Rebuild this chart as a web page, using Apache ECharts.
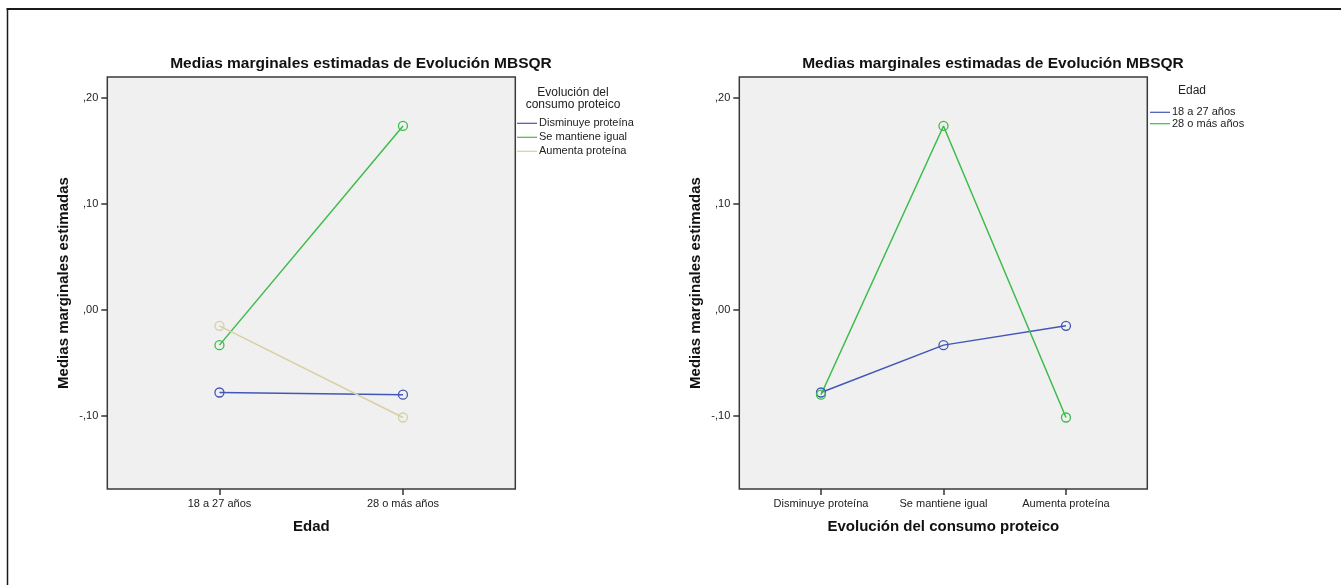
<!DOCTYPE html>
<html>
<head>
<meta charset="utf-8">
<script src="https://cdn.jsdelivr.net/npm/echarts@6/dist/echarts.min.js"></script>
<style>
  html, body { margin: 0; padding: 0; background: #ffffff; }
  #chart { width: 1341px; height: 585px; }
</style>
</head>
<body>
<div id="chart"></div>
<script>
// Texts
const chartTitle = 'Medias marginales estimadas de Evolución MBSQR';
const yAxisTitle = 'Medias marginales estimadas';
const ageTitle = 'Edad';
const proteinTitle = 'Evolución del consumo proteico';
const proteinLegendTitle = 'Evolución del\nconsumo proteico';

// Categories
const ageGroups = ['18 a 27 años', '28 o más años'];
const proteinGroups = ['Disminuye proteína', 'Se mantiene igual', 'Aumenta proteína'];

// Estimated marginal means per protein group, ordered as ageGroups
const disminuyeProteina = [-0.0783, -0.0804];
const seMantieneIgual = [-0.0336, 0.1733];
const aumentaProteina = [-0.0154, -0.1019];

// Y tick values and their labels
const yTickValues = [-0.1, 0, 0.1, 0.2];
const yTickLabels = ['-,10', ',00', ',10', ',20'];

const proteinColors = ['#4256b8', '#3cbc4a', '#d6d0a4'];
const ageColors = ['#4256b8', '#3cbc4a'];

const font = '"Liberation Sans", Arial, sans-serif';
const byProtein = [disminuyeProteina, seMantieneIgual, aumentaProteina];

function yLabel(v) {
  const i = yTickValues.findIndex(t => Math.abs(t - v) < 1e-9);
  return i >= 0 ? yTickLabels[i] : '';
}

function gridBox(left) {
  return {
    left: left, top: 77, width: 408, height: 412,
    show: true, backgroundColor: '#f0f0f0',
    borderColor: '#3a3a3a', borderWidth: 1.5
  };
}

function categoryAxis(gridIndex, labels, min, max, name) {
  const ticks = labels.map((_, i) => i);
  return {
    gridIndex: gridIndex, type: 'value', min: min, max: max,
    axisLine: { show: false, onZero: false },
    splitLine: { show: false },
    axisTick: { show: true, customValues: ticks, length: 6, lineStyle: { color: '#333', width: 1.5 } },
    axisLabel: {
      customValues: ticks, margin: 9, fontSize: 11, color: '#222', fontFamily: font,
      formatter: v => labels[Math.round(v)]
    },
    name: name, nameLocation: 'middle', nameGap: 30,
    nameTextStyle: { fontSize: 15, fontWeight: 'bold', color: '#111', fontFamily: font }
  };
}

function meanAxis(gridIndex) {
  return {
    gridIndex: gridIndex, type: 'value', min: -0.1694, max: 0.2195,
    axisLine: { show: false, onZero: false },
    splitLine: { show: false },
    axisTick: { show: true, customValues: yTickValues, length: 6, lineStyle: { color: '#333', width: 1.5 } },
    axisLabel: {
      customValues: yTickValues, margin: 9, fontSize: 11, color: '#222', fontFamily: font,
      formatter: yLabel
    },
    name: yAxisTitle, nameLocation: 'middle', nameGap: 36, nameRotate: 90,
    nameTextStyle: { fontSize: 15, fontWeight: 'bold', color: '#111', fontFamily: font }
  };
}

function lineSeries(name, data, color, axisIndex) {
  return {
    type: 'line', name: name,
    xAxisIndex: axisIndex, yAxisIndex: axisIndex,
    data: data,
    symbol: 'circle', symbolSize: 9,
    itemStyle: { color: 'rgba(0,0,0,0)', borderColor: color, borderWidth: 1.3 },
    lineStyle: { color: color, width: 1.5 },
    emphasis: { disabled: true },
    animation: false
  };
}

const series = [];
// Left panel: one line per protein group across age groups
proteinGroups.forEach((g, i) => {
  series.push(lineSeries(g, byProtein[i].map((v, j) => [j, v]), proteinColors[i], 0));
});
// Right panel: one line per age group across protein groups
ageGroups.forEach((a, j) => {
  series.push(lineSeries(a, proteinGroups.map((_, i) => [i, byProtein[i][j]]), ageColors[j], 1));
});

function legendBlock(left, top, rowHeight, names, colors) {
  return {
    orient: 'vertical', left: left, top: top, padding: 0, itemGap: 0,
    itemWidth: 20, itemHeight: 1.2, icon: 'rect',
    selectedMode: false,
    textStyle: { fontSize: 11, lineHeight: rowHeight, color: '#222', fontFamily: font, padding: [0, 0, 0, -3] },
    data: names.map((n, i) => ({
      name: n,
      itemStyle: { color: colors[i], borderWidth: 0, borderColor: 'rgba(0,0,0,0)' }
    }))
  };
}

const titleStyle = { fontSize: 15.5, fontWeight: 'bold', color: '#111', fontFamily: font };

const option = {
  backgroundColor: '#ffffff',
  animation: false,
  title: [
    { text: chartTitle, left: 361, top: 56, padding: 0, textAlign: 'center', textStyle: titleStyle },
    { text: chartTitle, left: 993, top: 56, padding: 0, textAlign: 'center', textStyle: titleStyle },
    { text: proteinLegendTitle, left: 573, top: 87, padding: 0, textAlign: 'center',
      textStyle: { fontSize: 12, fontWeight: 'normal', lineHeight: 11.5, color: '#222', fontFamily: font } },
    { text: ageTitle, left: 1192, top: 85, padding: 0, textAlign: 'center',
      textStyle: { fontSize: 12, fontWeight: 'normal', color: '#222', fontFamily: font } }
  ],
  legend: [
    legendBlock(517, 116.3, 14, proteinGroups, proteinColors),
    legendBlock(1150, 106.6, 11.4, ageGroups, ageColors)
  ],
  grid: [gridBox(107.3), gridBox(739.3)],
  xAxis: [
    categoryAxis(0, ageGroups, -0.611, 1.612, ageTitle),
    categoryAxis(1, proteinGroups, -0.667, 2.664, proteinTitle)
  ],
  yAxis: [meanAxis(0), meanAxis(1)],
  series: series,
  graphic: [
    { type: 'line', shape: { x1: 6.5, y1: 9, x2: 1341, y2: 9 }, style: { stroke: '#1a1a1a', lineWidth: 2 } },
    { type: 'line', shape: { x1: 7.5, y1: 9, x2: 7.5, y2: 585 }, style: { stroke: '#1a1a1a', lineWidth: 1.5 } }
  ]
};

const chart = echarts.init(document.getElementById('chart'), null, { renderer: 'canvas' });
chart.setOption(option);
</script>
</body>
</html>
